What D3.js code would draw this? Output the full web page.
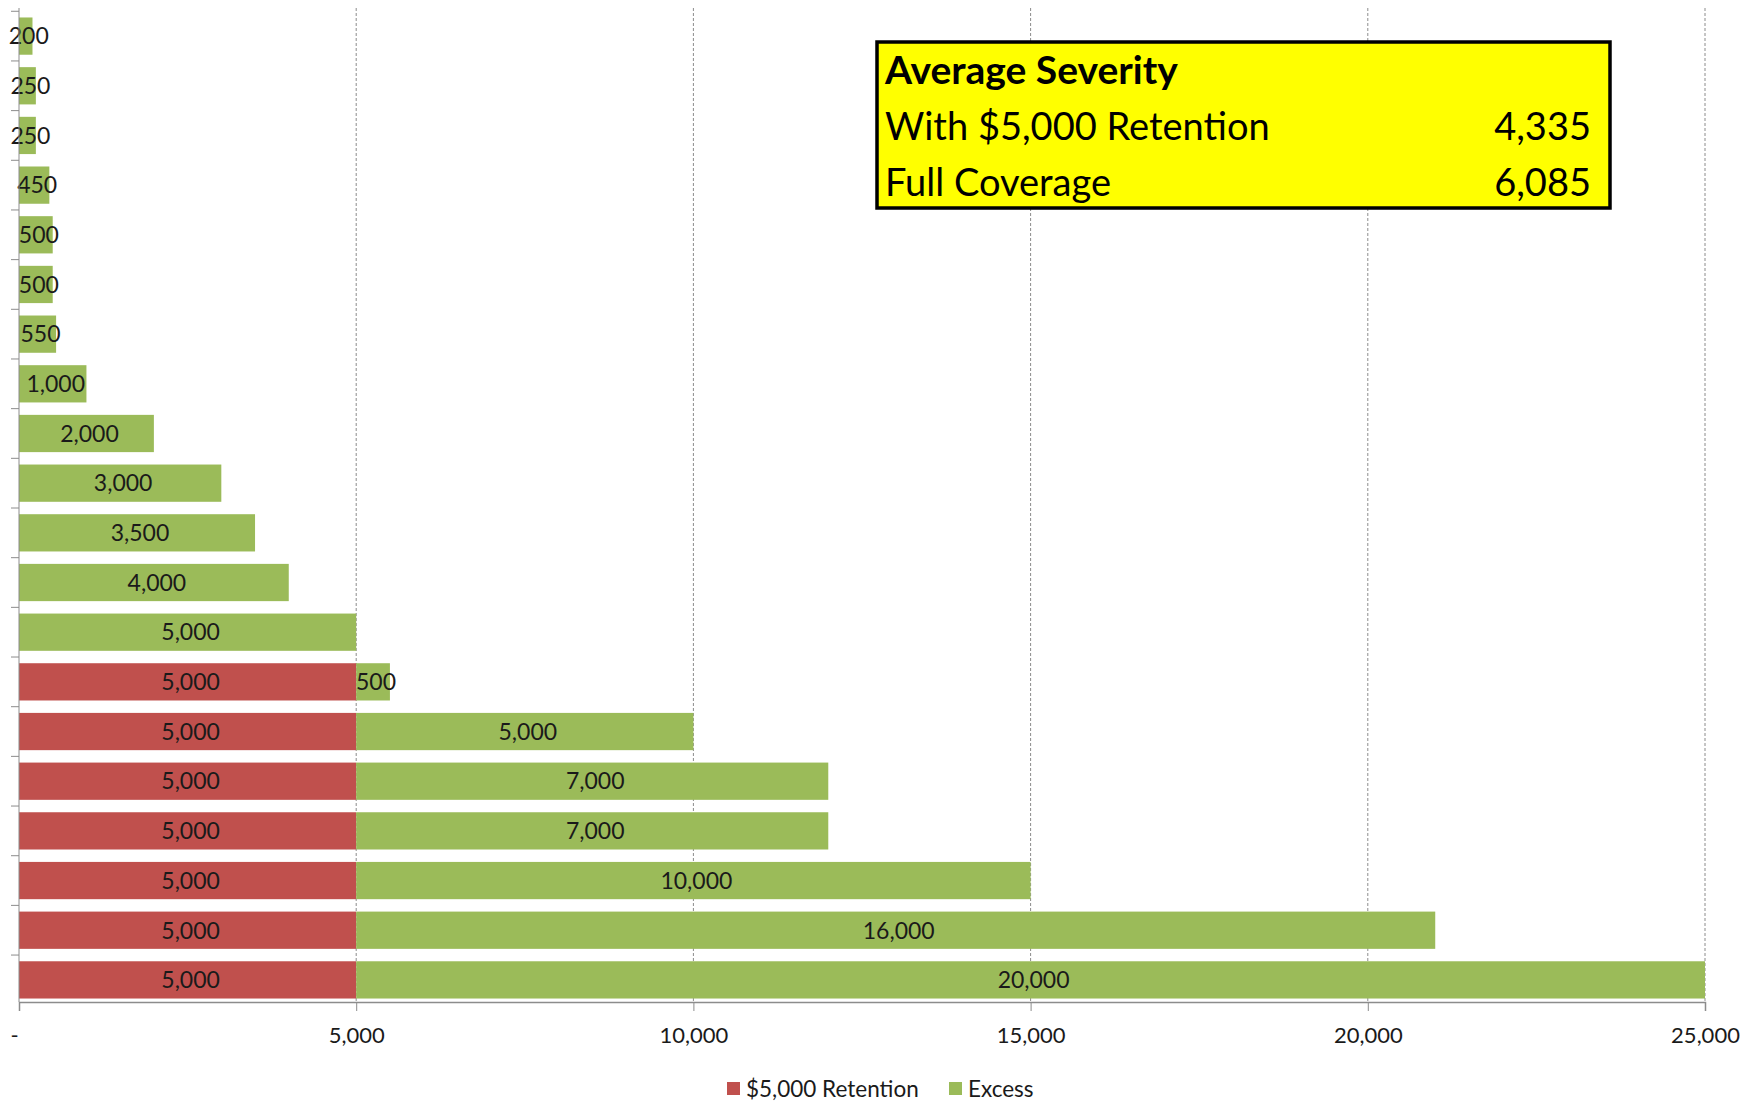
<!DOCTYPE html>
<html>
<head>
<meta charset="utf-8">
<script src="https://cdn.jsdelivr.net/npm/d3@7"></script>
<style>
  body { margin: 0; background: #fff; }
  svg { display: block; font-family: Lato, 'Open Sans', sans-serif; }
</style>
</head>
<body>
<div id="chart"></div>
<script>
// claims, top to bottom
const claims = [1, 2, 3, 4, 5, 6, 7, 8, 9, 10, 11, 12, 13, 14, 15, 16, 17, 18, 19, 20];
const retention = [0, 0, 0, 0, 0, 0, 0, 0, 0, 0, 0, 0, 0, 5000, 5000, 5000, 5000, 5000, 5000, 5000];
const excess = [200, 250, 250, 450, 500, 500, 550, 1000, 2000, 3000, 3500, 4000, 5000, 500, 5000, 7000, 7000, 10000, 16000, 20000];
const xTicks = [0, 5000, 10000, 15000, 20000, 25000];
const seriesNames = ['$5,000 Retention', 'Excess'];
const summaryTitle = 'Average Severity';
const summaryLabels = ['With $5,000 Retention', 'Full Coverage'];
const summaryValues = [4335, 6085];

const size = { width: 1752, height: 1101 };
const margin = { top: 14, right: 47, bottom: 99, left: 19 };
const colors = { ret: '#C0504D', exc: '#9BBB59' };

const svg = d3.select('#chart').append('svg')
  .attr('width', size.width)
  .attr('height', size.height);

const x = d3.scaleLinear()
  .domain([0, 25000])
  .range([margin.left, size.width - margin.right]);

const y = d3.scaleBand()
  .domain(claims)
  .range([margin.top, size.height - margin.bottom])
  .paddingInner(0.25)
  .paddingOuter(0.07);

const fmt = d3.format(',');
const plotTop = 8;

// gridlines
svg.append('g')
  .selectAll('line')
  .data(xTicks.slice(1))
  .join('line')
  .attr('x1', (d) => x(d))
  .attr('x2', (d) => x(d))
  .attr('y1', plotTop)
  .attr('y2', size.height - margin.bottom)
  .attr('stroke', '#8c8c8c')
  .attr('stroke-width', 1)
  .attr('stroke-dasharray', '3,2');

const rows = claims.map((c, i) => ({ c, ret: retention[i], exc: excess[i] }));

// bars
const bars = svg.append('g');
bars.selectAll('rect.ret')
  .data(rows.filter((d) => d.ret > 0))
  .join('rect')
  .attr('class', 'ret')
  .attr('x', x(0))
  .attr('y', (d) => y(d.c))
  .attr('width', (d) => x(d.ret) - x(0))
  .attr('height', y.bandwidth())
  .attr('fill', colors.ret);

bars.selectAll('rect.exc')
  .data(rows)
  .join('rect')
  .attr('class', 'exc')
  .attr('x', (d) => x(d.ret))
  .attr('y', (d) => y(d.c))
  .attr('width', (d) => x(d.ret + d.exc) - x(d.ret))
  .attr('height', y.bandwidth())
  .attr('fill', colors.exc);

// labels
const labels = svg.append('g')
  .attr('font-size', 23)
  .attr('fill', '#1a1a1a')
  .attr('text-anchor', 'middle');

labels.selectAll('text.ret')
  .data(rows.filter((d) => d.ret > 0))
  .join('text')
  .attr('x', (d) => (x(0) + x(d.ret)) / 2 + 3)
  .attr('y', (d) => y(d.c) + y.bandwidth() / 2)
  .attr('dy', '0.36em')
  .text((d) => fmt(d.ret));

labels.selectAll('text.exc')
  .data(rows)
  .join('text')
  .attr('x', (d) => (x(d.ret) + x(d.ret + d.exc)) / 2 + 3)
  .attr('y', (d) => y(d.c) + y.bandwidth() / 2)
  .attr('dy', '0.36em')
  .text((d) => fmt(d.exc));

// y axis with left ticks at band boundaries
const yAxis = svg.append('g').attr('stroke', '#8c8c8c');
yAxis.append('line')
  .attr('x1', x(0)).attr('x2', x(0))
  .attr('y1', plotTop).attr('y2', size.height - margin.bottom);
yAxis.selectAll('line.tk')
  .data(claims)
  .join('line')
  .attr('class', 'tk')
  .attr('x1', x(0) - 8).attr('x2', x(0))
  .attr('y1', (d) => y(d) - y.step() * y.paddingInner() / 2)
  .attr('y2', (d) => y(d) - y.step() * y.paddingInner() / 2);

// x axis
const xAxis = svg.append('g')
  .attr('transform', `translate(0,${size.height - margin.bottom})`)
  .call(d3.axisBottom(x).tickValues(xTicks).tickSizeOuter(0).tickSize(9).tickPadding(16)
    .tickFormat((d) => (d === 0 ? '-' : fmt(d))));
xAxis.select('.domain').attr('stroke', '#8c8c8c').attr('stroke-width', 1.5);
xAxis.selectAll('.tick line').attr('stroke', '#8c8c8c');
xAxis.selectAll('.tick text')
  .attr('font-size', 22)
  .attr('font-family', 'Lato, sans-serif')
  .attr('fill', '#1a1a1a')
  .attr('dx', (d) => (d === 0 ? -5 : 0));

// legend
const legend = svg.append('g').attr('font-size', 22.5).attr('fill', '#1a1a1a');
const legendX = [727, 949];
seriesNames.forEach((name, i) => {
  const g = legend.append('g').attr('transform', `translate(${legendX[i]},1082)`);
  g.append('rect').attr('width', 13).attr('height', 13)
    .attr('fill', i === 0 ? colors.ret : colors.exc);
  g.append('text').attr('x', 19).attr('y', 7).attr('dy', '0.36em').text(name);
});

// summary box
const box = svg.append('g');
box.append('rect')
  .attr('x', 877).attr('y', 42)
  .attr('width', 733).attr('height', 166)
  .attr('fill', '#ffff00')
  .attr('stroke', '#000')
  .attr('stroke-width', 3.5);
box.append('text')
  .attr('x', 885).attr('y', 84)
  .attr('font-size', 39).attr('font-weight', 'bold')
  .text(summaryTitle);
summaryLabels.forEach((lab, i) => {
  box.append('text')
    .attr('x', 885).attr('y', 140 + i * 56)
    .attr('font-size', 38)
    .text(lab);
  box.append('text')
    .attr('x', 1591).attr('y', 140 + i * 56)
    .attr('font-size', 38)
    .attr('text-anchor', 'end')
    .text(fmt(summaryValues[i]));
});
</script>
</body>
</html>
